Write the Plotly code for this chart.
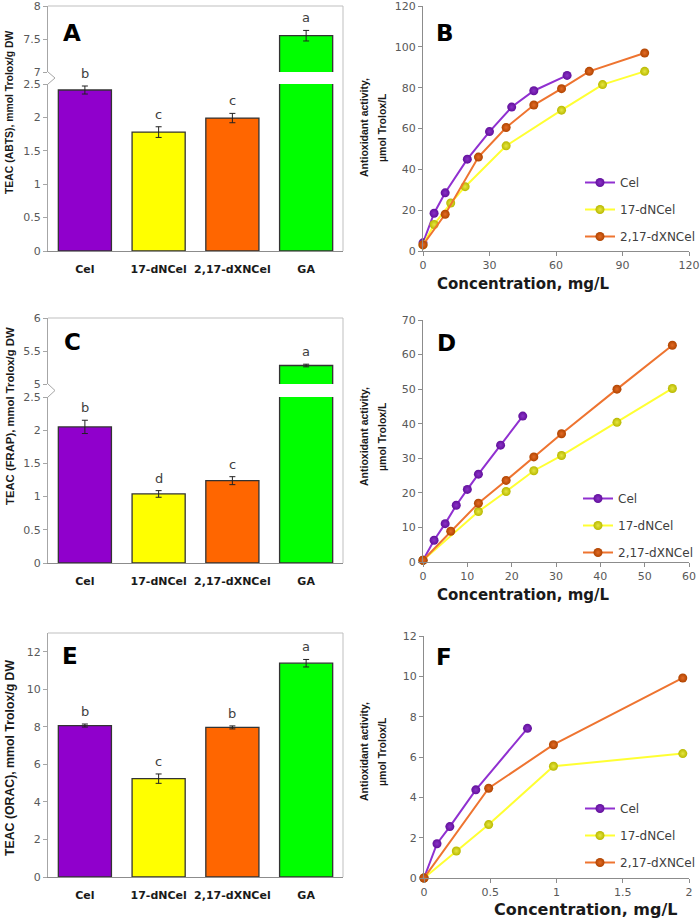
import plotly.graph_objects as go

W, H = 700, 919

# ---------------- data ----------------
categories = ['Cel', '17-dNCel', '2,17-dXNCel', 'GA']
bar_colors = ['#9000CC', '#FFFF00', '#FF6600', '#00FF00']

abts_values = [2.41, 1.78, 1.99, 7.55]
abts_errors = [0.06, 0.08, 0.07, 0.08]
abts_letters = ['b', 'c', 'c', 'a']

frap_values = [2.05, 1.04, 1.24, 5.28]
frap_errors = [0.10, 0.05, 0.06, 0.02]
frap_letters = ['b', 'd', 'c', 'a']

orac_values = [8.07, 5.24, 7.97, 11.39]
orac_errors = [0.08, 0.25, 0.08, 0.20]
orac_letters = ['b', 'c', 'b', 'a']

series_names = ['Cel', '17-dNCel', '2,17-dXNCel']

# Panel B (ABTS dose-response)
b_cel_x = [0, 5, 10, 20, 30, 40, 50, 65]
b_cel_y = [4, 18.5, 28.5, 45, 58.5, 70.5, 78.5, 86]
b_dn_x = [0, 5, 12.5, 19, 37.5, 62.5, 81, 100]
b_dn_y = [3, 13, 23.5, 31.5, 51.5, 69, 81.5, 88]
b_dx_x = [0, 10, 25, 37.5, 50, 62.5, 75, 100]
b_dx_y = [3, 18, 46, 60.5, 71.5, 79.5, 88, 97]

# Panel D (FRAP dose-response)
d_cel_x = [0, 2.5, 5, 7.5, 10, 12.5, 17.5, 22.5]
d_cel_y = [0.5, 6.3, 11.1, 16.4, 21, 25.4, 33.8, 42.2]
d_dn_x = [0, 12.5, 18.75, 25, 31.25, 43.75, 56.25]
d_dn_y = [0.5, 14.6, 20.4, 26.4, 30.8, 40.4, 50.2]
d_dx_x = [0, 6.25, 12.5, 18.75, 25, 31.25, 43.75, 56.25]
d_dx_y = [0.5, 8.9, 17.0, 23.6, 30.4, 37.1, 50.0, 62.7]

# Panel F (ORAC dose-response)
f_cel_x = [0, 0.098, 0.195, 0.391, 0.781]
f_cel_y = [0, 1.7, 2.55, 4.37, 7.42]
f_dn_x = [0, 0.244, 0.488, 0.977, 1.953]
f_dn_y = [0, 1.34, 2.65, 5.54, 6.17]
f_dx_x = [0, 0.488, 0.977, 1.953]
f_dx_y = [0, 4.45, 6.61, 9.92]

# ---------------- styling helpers ----------------
def fx(p):
    return p / W

def fy(p):
    return 1 - p / H

AX = '#A6A6A6'
AXD = '#8C8C8C'
TICKFONT = dict(family='DejaVu Sans', size=11, color='#595959')
CATFONT = dict(family='DejaVu Sans', size=11, color='#1A1A1A', weight='bold')
TITLEFONT = 'Liberation Sans'

line_styles = [
    dict(line='#9030D0', edge='#62109C', center='#8A32C6'),
    dict(line='#FFFF33', edge='#B8B800', center='#E6E640'),
    dict(line='#EE7430', edge='#B04400', center='#E26A25'),
]

fig = go.Figure()

# ---------------- bar panels ----------------
def add_bars(values, errors, xa, ya):
    fig.add_trace(go.Bar(
        x=categories, y=values, xaxis=xa, yaxis=ya,
        marker=dict(color=bar_colors, line=dict(color='#333333', width=1.3)),
        error_y=dict(type='data', array=errors, color='#222222', thickness=1, width=3),
        showlegend=False, hoverinfo='x+y'))

add_bars(abts_values, abts_errors, 'x', 'y')
add_bars(abts_values, abts_errors, 'x', 'y2')
add_bars(frap_values, frap_errors, 'x3', 'y4')
add_bars(frap_values, frap_errors, 'x3', 'y5')
add_bars(orac_values, orac_errors, 'x5', 'y7')

# ---------------- line panels ----------------
def add_lines(xs, ys, xa, ya, leg, tag):
    for i, (xv, yv) in enumerate(zip(xs, ys)):
        st = line_styles[i]
        fig.add_trace(go.Scatter(
            x=xv, y=yv, xaxis=xa, yaxis=ya, mode='lines+markers',
            name=series_names[i], legend=leg, legendgroup=tag + str(i),
            line=dict(color=st['line'], width=2),
            marker=dict(size=9, color=st['edge'],
                        gradient=dict(type='radial', color=st['center']),
                        line=dict(width=0)),
            cliponaxis=False))

add_lines([b_cel_x, b_dn_x, b_dx_x], [b_cel_y, b_dn_y, b_dx_y], 'x2', 'y3', 'legend', 'B')
add_lines([d_cel_x, d_dn_x, d_dx_x], [d_cel_y, d_dn_y, d_dx_y], 'x4', 'y6', 'legend2', 'D')
add_lines([f_cel_x, f_dn_x, f_dx_x], [f_cel_y, f_dn_y, f_dx_y], 'x6', 'y8', 'legend3', 'F')

# ---------------- axes ----------------
def cat_x(anchor):
    return dict(domain=[fx(48), fx(343)], anchor=anchor, range=[-0.5, 3.5],
                showline=True, linecolor=AXD, linewidth=1, ticks='',
                tickfont=CATFONT, ticklabelstandoff=8, showgrid=False, zeroline=False,
                automargin=False, ticklabeloverflow='allow')

def val_y(top, bottom, rng, dtick, anchor, tick0=0, col=AX):
    return dict(domain=[fy(bottom), fy(top)], anchor=anchor, range=rng, dtick=dtick, tick0=tick0,
                showline=True, linecolor=col, linewidth=1, ticks='outside', ticklen=4,
                tickcolor=col, tickfont=TICKFONT, showgrid=False, zeroline=False,
                automargin=False, ticklabeloverflow='allow')

def num_x(left, right, anchor, rng, dtick):
    return dict(domain=[fx(left), fx(right)], anchor=anchor, range=rng, dtick=dtick, tick0=0,
                showline=True, linecolor=AXD, linewidth=1, ticks='outside', ticklen=4,
                tickcolor=AXD, tickfont=TICKFONT, showgrid=False, zeroline=False,
                automargin=False, ticklabeloverflow='allow')

fig.update_layout(
    template='none',
    width=W, height=H, margin=dict(l=0, r=0, t=0, b=0, autoexpand=False),
    paper_bgcolor='white', plot_bgcolor='white',
    barmode='overlay', bargap=0.28,
    xaxis=cat_x('y'), xaxis3=cat_x('y4'), xaxis5=cat_x('y7'),
    xaxis2=num_x(423, 689, 'y3', [0, 120], 30),
    xaxis4=num_x(423, 689, 'y6', [0, 60], 10),
    xaxis6=num_x(424, 689, 'y8', [0, 2], 0.5),
    yaxis=val_y(84, 251, [0, 2.5], 0.5, 'x'),
    yaxis2=val_y(6, 72, [7, 8], 0.5, 'x', 7),
    yaxis4=val_y(397, 563, [0, 2.5], 0.5, 'x3'),
    yaxis5=val_y(318, 384, [5, 6], 0.5, 'x3', 5),
    yaxis7=val_y(633, 877, [0, 13], 2, 'x5'),
    yaxis3=val_y(6, 251, [0, 120], 20, 'x2', col=AXD),
    yaxis6=val_y(320, 562, [0, 70], 10, 'x4', col=AXD),
    yaxis8=val_y(636, 878, [0, 12], 2, 'x6', col=AXD),
    showlegend=True,
)

leg_common = dict(xanchor='left', yanchor='top', bgcolor='rgba(0,0,0,0)', borderwidth=0,
                  font=dict(family='DejaVu Sans', size=12, color='#404040'),
                  traceorder='grouped', tracegroupgap=8, itemwidth=30)
fig.update_layout(
    legend=dict(x=fx(580), y=fy(168), **leg_common),
    legend2=dict(x=fx(578), y=fy(484), **leg_common),
    legend3=dict(x=fx(580), y=fy(794), **leg_common),
)

# ---------------- frames & axis breaks ----------------
shapes = []
def frame(top, bottom):
    shapes.append(dict(type='path', xref='paper', yref='paper',
                       path=f'M {fx(48)},{fy(top)} L {fx(343)},{fy(top)} L {fx(343)},{fy(bottom)}',
                       line=dict(color='#BFBFBF', width=1)))

def zigzag(top, bottom):
    mid = (top + bottom) / 2
    shapes.append(dict(type='path', xref='paper', yref='paper',
                       path=f'M {fx(48)},{fy(top)} L {fx(55)},{fy(mid)} L {fx(48)},{fy(bottom)}',
                       line=dict(color=AX, width=1)))

frame(6, 251); zigzag(72, 84)
frame(318, 563); zigzag(384, 397)
frame(633, 877)
fig.update_layout(shapes=shapes)

# ---------------- annotations ----------------
ann = []

def letters(values, errors, labels, xref, yref_low, yref_high, brk):
    for c, v, e, t in zip(categories, values, errors, labels):
        yref = yref_high if (brk is not None and v > brk) else yref_low
        ann.append(dict(x=c, y=v + e, xref=xref, yref=yref, text=t, showarrow=False,
                        yanchor='bottom', yshift=3,
                        font=dict(family='DejaVu Sans', size=13, color='#404040')))

letters(abts_values, abts_errors, abts_letters, 'x', 'y', 'y2', 2.5)
letters(frap_values, frap_errors, frap_letters, 'x3', 'y4', 'y5', 2.5)
letters(orac_values, orac_errors, orac_letters, 'x5', 'y7', 'y7', None)

def panel_label(t, x, y):
    ann.append(dict(x=fx(x), y=fy(y), xref='paper', yref='paper', text=t, showarrow=False,
                    xanchor='center', yanchor='middle',
                    font=dict(family='DejaVu Sans', size=23, color='black', weight='bold')))

for t, x, y in [('A', 72, 33), ('B', 445, 33), ('C', 72, 342), ('D', 446, 343),
                ('E', 70, 656), ('F', 444, 657)]:
    panel_label(t, x, y)

def vtitle(t, x, y, size):
    ann.append(dict(x=fx(x), y=fy(y), xref='paper', yref='paper', text=t, showarrow=False,
                    textangle=-90, xanchor='center', yanchor='middle',
                    font=dict(family=TITLEFONT, size=size, color='#1A1A1A', weight='bold')))

vtitle('TEAC (ABTS), mmol Trolox/g DW', 10, 112, 10.4)
vtitle('TEAC (FRAP), mmol Trolox/g DW', 10, 416, 11.3)
vtitle('TEAC (ORAC), mmol Trolox/g DW', 10, 758, 12.3)

for yc in (128, 437, 752):
    vtitle('Antioxidant activity,', 364, yc, 10.5)
    vtitle('µmol Trolox/L', 382, yc, 10.5)

def htitle(t, x, y, size):
    ann.append(dict(x=fx(x), y=fy(y), xref='paper', yref='paper', text=t, showarrow=False,
                    xanchor='center', yanchor='middle',
                    font=dict(family='DejaVu Sans', size=size, color='#1A1A1A', weight='bold')))

htitle('Concentration, mg/L', 523, 284, 15)
htitle('Concentration, mg/L', 523, 595, 15)
htitle('Concentration, mg/L', 586, 909, 16)

fig.update_layout(annotations=ann)

# remove the browser's default 8px page margin so the figure sits at the window origin
fig.write_html('out.html',
               config={'displayModeBar': False},
               post_script="document.body.style.margin='0';document.body.style.overflow='hidden';")
